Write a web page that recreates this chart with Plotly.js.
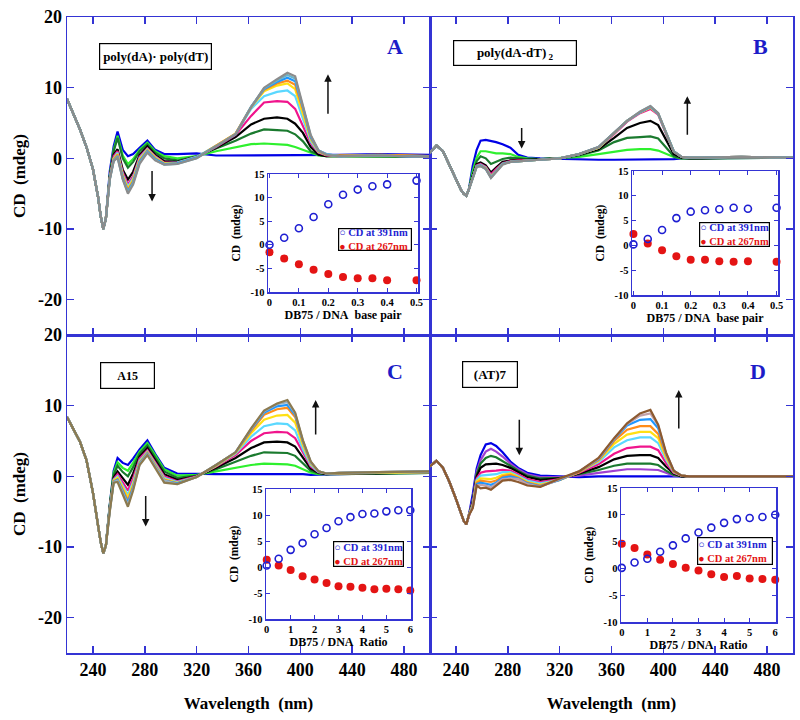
<!DOCTYPE html>
<html><head><meta charset="utf-8">
<script src="https://cdn.plot.ly/plotly-3.0.1.min.js"></script>
<style>html,body{margin:0;padding:0;background:#fff}#chart{width:800px;height:720px}</style>
</head><body><div id="chart"></div>
<script>
// ================= DATA =================
// wavelength grid (nm): common head + body
const wlHead = [220,225,230,235,240,244,246,248,250];
const wlBody = [253,256,259,263,267,271,276,282,288,295,305,320,335,350,362,372,382,390,396,402,408,414,420,430,460,500];

// CD (mdeg) – head part is common to all titration curves of a panel
const headA = [8.4, 6.2, 4.1, 1.6, -1.5, -5.5, -8.2, -10.0, -8.5];
const headB = [0.8, 1.8, 1.0, -1.0, -3.0, -4.5, -5.0, -5.3, -4.4];
const headC = [8.4, 6.7, 4.9, 2.3, -2.3, -7.0, -9.3, -10.9, -9.8];
const headD = [1.4, 2.2, 1.2, -0.8, -3.2, -5.3, -6.3, -6.8, -5.5];

// Panel A: poly(dA)·poly(dT) titration curves (first = free DNA)
const cdA = [
 [-1.8, 1.7, 3.8, 1.2, 0.3, 0.6, 1.5, 2.5, 1.2, 0.6, 0.6, 0.7, 0.4, 0.4, 0.5, 0.5, 0.5, 0.5, 0.4, 0.4, 0.4, 0.4, 0.5, 0.5, 0.6, 0.5],
 [-2.4, 1.2, 3.2, 0.4, -0.8, -0.1, 1.2, 2.2, 1.0, 0.3, 0.0, 0.3, 1.0, 1.6, 2.0, 2.1, 2.0, 1.9, 1.6, 1.2, 0.7, 0.4, 0.3, 0.3, 0.3, 0.2],
 [-2.5, 1.0, 2.9, 0.0, -1.3, -0.5, 1.0, 2.0, 0.8, 0.0, -0.3, 0.3, 1.4, 2.5, 3.5, 4.1, 4.0, 3.9, 3.4, 2.4, 1.0, 0.5, 0.3, 0.3, 0.3, 0.2],
 [-2.6, 0.5, 1.3, -1.6, -3.0, -1.9, 0.5, 1.7, 0.5, -0.4, -0.5, 0.2, 1.5, 3.0, 4.8, 5.6, 5.8, 5.6, 4.9, 3.6, 1.6, 0.5, 0.3, 0.3, 0.4, 0.2],
 [-2.7, 0.3, 1.0, -2.0, -3.7, -2.5, 0.2, 1.4, 0.3, -0.6, -0.6, 0.2, 1.6, 3.3, 6.0, 7.9, 8.1, 8.0, 7.0, 4.6, 2.1, 0.8, 0.4, 0.3, 0.4, 0.2],
 [-2.8, 0.0, 0.8, -2.3, -4.0, -2.8, 0.0, 1.3, 0.2, -0.7, -0.6, 0.2, 1.8, 3.4, 7.0, 8.8, 9.4, 9.6, 8.8, 5.6, 2.4, 0.9, 0.5, 0.3, 0.4, 0.2],
 [-2.8, -0.1, 0.6, -2.5, -4.3, -3.0, -0.2, 1.2, 0.1, -0.7, -0.7, 0.1, 1.8, 3.5, 7.2, 9.5, 10.3, 10.6, 9.8, 6.4, 2.7, 1.0, 0.5, 0.4, 0.5, 0.3],
 [-2.9, -0.2, 0.5, -2.6, -4.5, -3.2, -0.3, 1.1, 0.0, -0.8, -0.7, 0.1, 1.8, 3.5, 7.3, 9.7, 10.6, 11.0, 10.4, 6.9, 2.9, 1.0, 0.5, 0.4, 0.5, 0.3],
 [-2.9, -0.3, 0.3, -2.8, -4.7, -3.4, -0.5, 1.0, -0.1, -0.8, -0.7, 0.1, 1.7, 3.4, 7.3, 9.8, 10.8, 11.4, 10.9, 7.2, 3.0, 1.1, 0.6, 0.3, 0.4, 0.2],
 [-3.0, -0.3, 0.2, -2.9, -4.8, -3.5, -0.6, 0.9, -0.2, -0.9, -0.8, 0.0, 1.7, 3.4, 7.3, 9.9, 11.0, 11.8, 11.3, 7.4, 3.2, 1.1, 0.6, 0.3, 0.4, 0.2],
 [-3.0, -0.4, 0.1, -3.0, -5.0, -3.7, -0.8, 0.8, -0.3, -0.9, -0.8, 0.0, 1.7, 3.4, 7.2, 10.0, 11.2, 12.1, 11.6, 7.6, 3.3, 1.1, 0.5, 0.3, 0.4, 0.2]
];
// Panel B: poly(dA-dT)2
const cdB = [
 [-1.0, 1.2, 2.5, 2.6, 2.5, 2.3, 2.0, 1.5, 0.5, 0.1, 0.0, -0.1, -0.1, -0.2, -0.2, -0.2, -0.2, -0.1, -0.2, -0.1, -0.1, 0.0, 0.0, 0.0, 0.1, 0.1],
 [-1.8, 0.1, 1.0, 1.0, 0.9, 0.7, 0.7, 0.6, 0.2, 0.0, -0.1, 0.0, 0.2, 0.6, 0.9, 1.2, 1.3, 1.3, 1.1, 0.7, 0.2, 0.0, 0.0, 0.0, 0.1, 0.1],
 [-2.2, -0.4, 0.3, 0.0, -0.8, -0.5, -0.1, 0.1, 0.0, -0.1, -0.1, 0.0, 0.4, 1.1, 2.3, 2.9, 3.0, 3.1, 2.8, 1.5, 0.3, 0.0, 0.0, 0.0, 0.1, 0.1],
 [-2.4, -0.8, -0.6, -1.0, -2.0, -1.3, -0.5, -0.3, -0.2, -0.2, -0.1, 0.0, 0.5, 1.3, 2.9, 4.3, 5.0, 5.3, 4.7, 2.6, 0.6, 0.1, 0.0, 0.0, 0.1, 0.1],
 [-2.6, -1.0, -0.8, -1.2, -2.3, -1.5, -0.7, -0.4, -0.3, -0.3, -0.2, 0.0, 0.6, 1.5, 3.4, 5.2, 6.4, 7.0, 6.2, 3.5, 1.0, 0.2, 0.1, 0.1, 0.2, 0.1],
 [-2.7, -1.1, -0.9, -1.3, -2.5, -1.7, -0.8, -0.5, -0.4, -0.3, -0.2, 0.0, 0.6, 1.5, 3.5, 5.3, 6.5, 7.2, 6.3, 3.6, 1.0, 0.2, 0.1, 0.1, 0.2, 0.1],
 [-2.7, -1.1, -1.0, -1.4, -2.6, -1.8, -0.8, -0.5, -0.4, -0.3, -0.2, 0.0, 0.6, 1.5, 3.5, 5.3, 6.5, 7.2, 6.3, 3.6, 1.0, 0.2, 0.1, 0.1, 0.2, 0.1],
 [-2.8, -1.1, -1.0, -1.4, -2.6, -1.8, -0.8, -0.5, -0.4, -0.3, -0.2, 0.0, 0.6, 1.6, 3.6, 5.3, 6.5, 7.3, 6.3, 3.7, 1.0, 0.2, 0.1, 0.1, 0.2, 0.1],
 [-2.8, -1.1, -1.0, -1.5, -2.7, -1.8, -0.8, -0.5, -0.4, -0.3, -0.2, 0.0, 0.6, 1.6, 3.6, 5.3, 6.5, 7.3, 6.3, 3.7, 1.0, 0.2, 0.1, 0.1, 0.2, 0.1],
 [-2.9, -1.2, -1.1, -1.5, -2.7, -1.9, -0.8, -0.5, -0.4, -0.3, -0.2, 0.0, 0.6, 1.6, 3.6, 5.3, 6.6, 7.4, 6.4, 3.7, 1.0, 0.2, 0.1, 0.1, 0.2, 0.1],
 [-2.9, -1.2, -1.1, -1.5, -2.8, -1.9, -0.9, -0.5, -0.4, -0.3, -0.2, 0.0, 0.6, 1.6, 3.6, 5.3, 6.6, 7.4, 6.4, 3.7, 0.9, 0.2, 0.1, 0.1, 0.2, 0.1]
];
// Panel C: A15
const cdC = [
 [-4.0, 0.8, 2.6, 1.9, 1.6, 2.5, 3.8, 5.1, 3.2, 1.2, 0.4, 0.3, 0.3, 0.3, 0.3, 0.4, 0.3, 0.4, 0.4, 0.3, 0.2, 0.2, 0.3, 0.3, 0.4, 0.5],
 [-4.1, 0.5, 2.0, 1.2, 0.8, 1.9, 3.5, 4.7, 3.0, 1.0, 0.1, 0.2, 0.7, 1.2, 1.6, 1.8, 1.8, 1.7, 1.5, 1.0, 0.5, 0.3, 0.3, 0.3, 0.4, 0.5],
 [-4.2, 0.2, 1.5, 0.6, 0.0, 1.3, 3.2, 4.4, 2.7, 0.7, -0.2, 0.1, 1.0, 2.0, 2.9, 3.4, 3.4, 3.3, 2.9, 1.8, 0.8, 0.4, 0.3, 0.3, 0.4, 0.5],
 [-4.3, -0.2, 0.7, -0.3, -1.2, 0.4, 2.8, 4.0, 2.3, 0.3, -0.5, 0.0, 1.2, 2.6, 4.0, 4.8, 4.9, 4.8, 4.2, 2.6, 1.1, 0.5, 0.3, 0.4, 0.4, 0.6],
 [-4.4, -0.4, 0.3, -0.9, -2.0, -0.3, 2.5, 3.7, 2.0, 0.0, -0.7, 0.0, 1.4, 3.0, 5.0, 6.1, 6.3, 6.2, 5.4, 3.3, 1.4, 0.6, 0.4, 0.4, 0.5, 0.6],
 [-4.5, -0.5, 0.0, -1.4, -2.6, -0.8, 2.2, 3.5, 1.8, -0.2, -0.8, -0.1, 1.5, 3.2, 5.6, 7.1, 7.5, 7.4, 6.5, 3.8, 1.6, 0.6, 0.4, 0.4, 0.5, 0.6],
 [-4.6, -0.6, -0.2, -1.7, -3.0, -1.1, 2.0, 3.4, 1.6, -0.4, -0.9, -0.1, 1.5, 3.3, 6.1, 8.0, 8.6, 8.7, 7.6, 4.4, 1.8, 0.7, 0.4, 0.4, 0.5, 0.6],
 [-4.7, -0.7, -0.4, -2.0, -3.4, -1.4, 1.9, 3.3, 1.5, -0.5, -1.0, -0.1, 1.6, 3.4, 6.4, 8.7, 9.5, 9.7, 8.4, 4.8, 1.9, 0.7, 0.4, 0.5, 0.6, 0.7],
 [-4.8, -0.8, -0.5, -2.2, -3.7, -1.6, 1.8, 3.2, 1.4, -0.6, -1.0, -0.1, 1.6, 3.4, 6.6, 9.0, 9.9, 10.1, 8.7, 4.9, 2.0, 0.7, 0.4, 0.5, 0.6, 0.7],
 [-4.9, -0.8, -0.6, -2.4, -4.0, -1.8, 1.7, 3.1, 1.3, -0.6, -1.1, -0.1, 1.6, 3.4, 6.7, 9.2, 10.2, 10.5, 8.9, 5.0, 2.0, 0.7, 0.4, 0.5, 0.6, 0.7],
 [-5.0, -0.9, -0.8, -2.6, -4.3, -2.0, 1.6, 3.0, 1.2, -0.9, -1.1, -0.1, 1.6, 3.4, 6.8, 9.3, 10.3, 10.8, 9.0, 5.1, 2.1, 0.7, 0.4, 0.5, 0.6, 0.7]
];
// Panel D: (AT)7
const cdD = [
 [-2.5, 1.1, 3.0, 4.5, 4.7, 4.3, 3.4, 2.1, 1.2, 0.5, 0.1, 0.0, -0.1, 0.0, 0.0, 0.0, 0.0, 0.0, 0.0, 0.0, 0.0, 0.0, 0.0, 0.0, 0.0, 0.0],
 [-3.3, 0.6, 2.3, 3.5, 3.9, 3.5, 2.8, 1.8, 1.0, 0.3, -0.1, -0.1, 0.1, 0.5, 0.8, 1.0, 1.0, 1.0, 0.9, 0.5, 0.1, 0.0, 0.0, 0.0, 0.0, 0.0],
 [-3.5, 0.3, 1.8, 2.6, 2.9, 2.7, 2.2, 1.5, 0.8, 0.1, -0.3, -0.2, 0.3, 0.9, 1.5, 1.8, 1.8, 1.8, 1.6, 0.8, 0.2, 0.0, 0.0, 0.0, 0.0, 0.0],
 [-3.7, 0.0, 1.2, 1.7, 1.8, 1.8, 1.6, 1.2, 0.6, -0.1, -0.5, -0.3, 0.4, 1.3, 2.4, 2.9, 3.0, 3.0, 2.6, 1.4, 0.4, 0.0, 0.0, 0.0, 0.0, 0.0],
 [-3.9, -0.3, 0.5, 0.7, 0.7, 0.8, 0.9, 0.8, 0.3, -0.4, -0.8, -0.4, 0.5, 1.7, 3.2, 4.0, 4.2, 4.2, 3.7, 1.9, 0.5, 0.1, 0.0, 0.0, 0.0, 0.0],
 [-4.0, -0.5, 0.1, 0.2, 0.2, 0.3, 0.6, 0.6, 0.1, -0.6, -1.0, -0.5, 0.6, 2.0, 4.1, 5.1, 5.5, 5.5, 4.7, 2.4, 0.6, 0.1, 0.0, 0.0, 0.0, 0.0],
 [-4.1, -0.7, -0.3, -0.3, -0.4, -0.2, 0.2, 0.4, -0.1, -0.8, -1.2, -0.5, 0.6, 2.2, 4.6, 5.9, 6.3, 6.3, 5.4, 2.7, 0.7, 0.1, 0.0, 0.0, 0.0, 0.0],
 [-4.2, -0.9, -0.6, -0.7, -0.8, -0.6, 0.0, 0.2, -0.2, -0.9, -1.3, -0.5, 0.6, 2.3, 5.0, 6.6, 7.1, 7.1, 6.0, 3.0, 0.7, 0.1, 0.0, 0.0, 0.0, 0.0],
 [-4.3, -1.1, -0.9, -1.0, -1.2, -0.9, -0.2, 0.0, -0.3, -1.0, -1.4, -0.5, 0.7, 2.4, 5.2, 7.2, 8.0, 8.1, 6.8, 3.2, 0.8, 0.1, 0.0, 0.0, 0.0, 0.0],
 [-4.4, -1.3, -1.2, -1.3, -1.6, -1.1, -0.4, -0.3, -0.4, -1.1, -1.5, -0.4, 0.7, 2.5, 5.3, 7.4, 8.6, 8.9, 7.2, 3.3, 0.8, 0.1, 0.0, 0.0, 0.0, 0.0],
 [-4.5, -1.3, -1.7, -1.6, -1.9, -1.3, -0.6, -0.5, -0.8, -1.3, -1.5, -0.3, 0.7, 2.6, 5.4, 7.5, 8.9, 9.4, 7.3, 3.4, 0.8, 0.1, 0.0, 0.0, 0.0, 0.0]
];

// Insets: CD at 391 nm / 267 nm vs DB75/DNA
const ratioAB = [0, 0.05, 0.1, 0.15, 0.2, 0.25, 0.3, 0.35, 0.4, 0.5];
const insetA391 = [0.0, 1.5, 3.5, 5.9, 8.6, 10.6, 11.7, 12.4, 12.8, 13.6];
const insetA267 = [-1.6, -2.9, -4.1, -5.3, -6.2, -6.8, -7.1, -7.1, -7.5, -7.5];
const insetB391 = [0.2, 1.3, 3.1, 5.5, 6.8, 7.1, 7.3, 7.6, 7.4, 7.6];
const insetB267 = [2.3, 0.4, -1.0, -2.2, -2.9, -2.9, -3.2, -3.3, -3.2, -3.3];
const ratioCD = [0, 0.5, 1, 1.5, 2, 2.5, 3, 3.5, 4, 4.5, 5, 5.5, 6];
const insetC391 = [0.3, 1.6, 3.3, 4.6, 6.3, 7.5, 8.8, 9.6, 10.2, 10.3, 10.7, 10.9, 10.9];
const insetC267 = [1.4, 0.3, -0.6, -1.8, -2.4, -3.1, -3.7, -3.8, -4.0, -4.3, -4.2, -4.3, -4.5];
const insetD391 = [0.1, 1.1, 1.8, 3.1, 4.3, 5.6, 6.7, 7.6, 8.5, 9.2, 9.4, 9.6, 10.0];
const insetD267 = [4.6, 3.8, 2.6, 1.6, 0.8, 0.1, -0.4, -1.1, -1.6, -1.4, -1.9, -2.0, -2.1];

// tick labels
const xTickVals = [240, 280, 320, 360, 400, 440, 480];
const xTickText = ['240', '280', '320', '360', '400', '440', '480'];
const yTickVals = [20, 10, 0, -10, -20];
const yTickText = ['20', '10', '0', '-10', '-20'];
const inYVals = [15, 10, 5, 0, -5, -10];
const inYText = ['15', '10', '5', '0', '-5', '-10'];
const inXValsAB = [0, 0.1, 0.2, 0.3, 0.4, 0.5];
const inXTextAB = ['0', '0.1', '0.2', '0.3', '0.4', '0.5'];
const inXValsCD = [0, 1, 2, 3, 4, 5, 6];
const inXTextCD = ['0', '1', '2', '3', '4', '5', '6'];

// ================= STYLE / LAYOUT =================
const F = 'Liberation Serif, Times New Roman, serif';
const AX = '#3434d4';
const colAB = ['#0000e6','#2ef02e','#1a7a2e','#000000','#f0148c','#5ad8ff','#ffe014','#ff8c1a','#1e96ff','#6ab4c8','#8c8c8c'];
const colC  = ['#0000e6','#2ef02e','#1a7a2e','#000000','#f0148c','#5ad8ff','#ffe014','#ff8c1a','#1e96ff','#9ab0c0','#8c7a50'];
const colD  = ['#0000e6','#a040d0','#1a7a2e','#000000','#f0148c','#5ad8ff','#ffe014','#ff8c1a','#1e96ff','#c0a0a8','#8c5a30'];

const ML = 67, MT = 17, PW = 726, PH = 636;
const pxX = v => (v - ML) / PW;
const pxY = v => (MT + PH - v) / PH;

const wl = wlHead.concat(wlBody);
const traces = [];
[[headA, cdA, colAB, 'x', 'y'], [headB, cdB, colAB, 'x2', 'y2'],
 [headC, cdC, colC, 'x3', 'y3'], [headD, cdD, colD, 'x4', 'y4']].forEach(([h, rows, cols, xa, ya]) => {
  rows.forEach((r, i) => traces.push({
    x: wl, y: h.concat(r), xaxis: xa, yaxis: ya, type: 'scatter', mode: 'lines',
    line: {color: cols[i], width: 2.2}, showlegend: false, hoverinfo: 'skip'
  }));
});
[[ratioAB, insetA391, insetA267, 'x5', 'y5'], [ratioAB, insetB391, insetB267, 'x6', 'y6'],
 [ratioCD, insetC391, insetC267, 'x7', 'y7'], [ratioCD, insetD391, insetD267, 'x8', 'y8']].forEach(([x, a, b, xa, ya]) => {
  traces.push({x: x, y: b, xaxis: xa, yaxis: ya, type: 'scatter', mode: 'markers', cliponaxis: false,
    name: 'CD at 267nm', showlegend: false, marker: {symbol: 'circle', size: 8, color: '#e41414'}});
  traces.push({x: x, y: a, xaxis: xa, yaxis: ya, type: 'scatter', mode: 'markers', cliponaxis: false,
    name: 'CD at 391nm', showlegend: false, marker: {symbol: 'circle-open', size: 7, color: '#1e1ed2', line: {width: 1.6, color: '#1e1ed2'}}});
});

function mainX(dom, anchor, labels, title) {
  const a = {domain: dom, anchor: anchor, range: [220, 500], tickvals: xTickVals, ticktext: xTickText,
    showticklabels: labels, ticks: 'inside', ticklen: 7, tickwidth: 1.5, tickcolor: AX,
    showline: true, linecolor: AX, linewidth: 1.5, mirror: 'ticks', showgrid: false, zeroline: false,
    tickfont: {family: F, size: 18, weight: 'bold', color: '#000'}};
  if (title) a.title = {text: 'Wavelength\u00a0 (nm)', font: {family: F, size: 17, weight: 'bold', color: '#000'}, standoff: 18};
  return a;
}
function mainY(dom, anchor, labels, title) {
  const a = {domain: dom, anchor: anchor, range: [-25, 20], tickvals: yTickVals, ticktext: yTickText,
    showticklabels: labels, ticks: 'inside', ticklen: 7, tickwidth: 1.5, tickcolor: AX,
    showline: true, linecolor: AX, linewidth: 1.5, mirror: 'ticks', showgrid: false, zeroline: false,
    tickfont: {family: F, size: 18, weight: 'bold', color: '#000'}};
  if (title) a.title = {text: 'CD\u00a0 (mdeg)', font: {family: F, size: 17, weight: 'bold', color: '#000'}, standoff: 8};
  return a;
}
function inX(dom, anchor, range, vals, text, title) {
  return {domain: dom, anchor: anchor, range: range, tickvals: vals, ticktext: text,
    ticks: 'inside', ticklen: 4, tickwidth: 1, tickcolor: AX, showline: true, linecolor: AX, linewidth: 1.5,
    mirror: 'ticks', showgrid: false, zeroline: false,
    tickfont: {family: F, size: 10.5, weight: 'bold', color: '#000'},
    title: {text: title, font: {family: F, size: 12, weight: 'bold', color: '#000'}, standoff: 2}};
}
function inY(dom, anchor) {
  return {domain: dom, anchor: anchor, range: [-10, 15], tickvals: inYVals, ticktext: inYText,
    ticks: 'inside', ticklen: 4, tickwidth: 1, tickcolor: AX, showline: true, linecolor: AX, linewidth: 1.5,
    mirror: 'ticks', showgrid: false, zeroline: false,
    tickfont: {family: F, size: 10.5, weight: 'bold', color: '#000'},
    title: {text: 'CD\u00a0 (mdeg)', font: {family: F, size: 11.5, weight: 'bold', color: '#000'}, standoff: 7}};
}

const ann = [];
function box(text, x0, x1, y0, y1, size) {
  ann.push({xref: 'paper', yref: 'paper', x: pxX((x0 + x1) / 2), y: pxY((y0 + y1) / 2),
    xanchor: 'center', yanchor: 'middle', showarrow: false, text: text,
    width: x1 - x0 - 2, height: y1 - y0 - 2, borderpad: 0, bordercolor: '#000', borderwidth: 1.2, bgcolor: '#fff',
    font: {family: F, size: size, weight: 'bold', color: '#000'}});
}
box('poly(dA)\u00b7 poly(dT)', 99, 212, 43, 70, 13);
box('poly(dA-dT)<sub> 2</sub>', 453, 577, 40, 66, 13);
box('A15', 100, 155, 362, 389, 12);
box('(AT)7', 462, 518, 361, 388, 13);

function letter(t, x, y) {
  ann.push({xref: 'paper', yref: 'paper', x: pxX(x), y: pxY(y), xanchor: 'center', yanchor: 'middle',
    showarrow: false, text: t, font: {family: F, size: 22, weight: 'bold', color: '#1c1cc8'}});
}
letter('A', 395, 47); letter('B', 760, 47); letter('C', 395, 371); letter('D', 758, 372);

function arrow(xa, ya, x, y, ay) {
  ann.push({xref: xa, yref: ya, x: x, y: y, ax: 0, ay: ay, text: '', showarrow: true,
    arrowhead: 2, arrowsize: 1, arrowwidth: 1.5, arrowcolor: '#111', standoff: 0});
}
arrow('x', 'y', 421.3, 11.9, 41);
arrow('x', 'y', 285.6, -6.1, -32);
arrow('x2', 'y2', 290.7, 1.4, -22);
arrow('x2', 'y2', 418.5, 8.8, 40);
arrow('x3', 'y3', 411.8, 10.8, 36);
arrow('x3', 'y3', 280.7, -7.1, -32);
arrow('x4', 'y4', 288.9, 3.0, -37);
arrow('x4', 'y4', 411.9, 12.2, 40);

function legendBox(x0, x1, y0, y1) {
  ann.push({xref: 'paper', yref: 'paper', x: pxX((x0 + x1) / 2), y: pxY((y0 + y1) / 2),
    xanchor: 'center', yanchor: 'middle', showarrow: false, align: 'left',
    width: x1 - x0 - 2, height: y1 - y0 - 2, borderpad: 0, bordercolor: '#000', borderwidth: 1.2, bgcolor: '#fff',
    text: '<span style="color:#1e1ed2">\u25cb CD at 391nm</span><br><span style="color:#e41414">\u25cf CD at 267nm</span>',
    font: {family: F, size: 10.5, weight: 'bold', color: '#000'}});
}
legendBox(338, 412, 228, 251);
legendBox(699, 770, 222, 247);
legendBox(333, 404, 541, 567);
legendBox(697, 773, 537, 565);

const layout = {
  width: 800, height: 720, margin: {l: ML, r: 800 - ML - PW, t: MT, b: 720 - MT - PH},
  paper_bgcolor: '#fff', plot_bgcolor: '#fff', showlegend: false,
  font: {family: F, color: '#000'},
  xaxis: mainX([0, 0.5], 'y', false, false),
  yaxis: mainY([0.5, 1], 'x', true, true),
  xaxis2: mainX([0.5, 1], 'y2', false, false),
  yaxis2: mainY([0.5, 1], 'x2', false, false),
  xaxis3: mainX([0, 0.5], 'y3', true, true),
  yaxis3: mainY([0, 0.5], 'x3', true, true),
  xaxis4: mainX([0.5, 1], 'y4', true, true),
  yaxis4: mainY([0, 0.5], 'x4', false, false),
  xaxis5: inX([pxX(268), pxX(418)], 'y5', [-0.005, 0.505], inXValsAB, inXTextAB, 'DB75 / DNA\u00a0 base pair'),
  yaxis5: inY([pxY(292), pxY(174)], 'x5'),
  xaxis6: inX([pxX(632), pxX(778)], 'y6', [-0.005, 0.505], inXValsAB, inXTextAB, 'DB75 / DNA\u00a0 base pair'),
  yaxis6: inY([pxY(295), pxY(171)], 'x6'),
  xaxis7: inX([pxX(266), pxX(411)], 'y7', [-0.03, 6.03], inXValsCD, inXTextCD, 'DB75 / DNA\u00a0 Ratio'),
  yaxis7: inY([pxY(619), pxY(489)], 'x7'),
  xaxis8: inX([pxX(621), pxX(776)], 'y8', [-0.03, 6.03], inXValsCD, inXTextCD, 'DB75 / DNA\u00a0 Ratio'),
  yaxis8: inY([pxY(622), pxY(488)], 'x8'),
  annotations: ann
};
Plotly.newPlot('chart', traces, layout, {displayModeBar: false, staticPlot: true});
</script></body></html>
